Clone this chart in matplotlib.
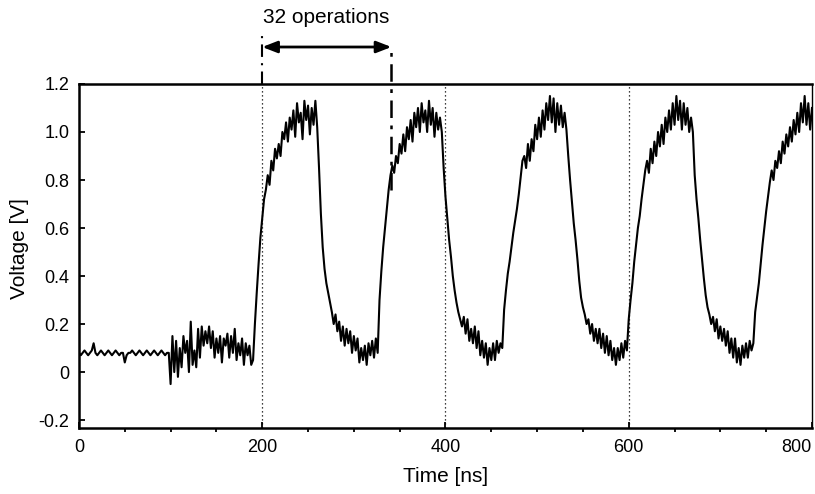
import matplotlib
matplotlib.use("Agg")
import matplotlib.pyplot as plt  # noqa: E402
import numpy as np

plt.rcParams["font.family"] = ["Liberation Sans", "DejaVu Sans"]

STEP_NS = 2
# (start time [ns], voltages [V])
baseline = (0, [0.08, 0.07, 0.08, 0.09, 0.08, 0.07, 0.08, 0.09, 0.12, 0.08,
                0.07, 0.08, 0.09, 0.08, 0.07, 0.08, 0.09, 0.08, 0.07, 0.08,
                0.09, 0.08, 0.07, 0.08, 0.08, 0.04, 0.07, 0.08, 0.08, 0.09,
                0.08, 0.07, 0.08, 0.09, 0.08, 0.07, 0.08, 0.09, 0.08, 0.07,
                0.08, 0.09, 0.08, 0.07, 0.08, 0.09, 0.08, 0.07, 0.08, 0.08])
settling = (100, [-0.05, 0.15, 0.00, 0.13, -0.02, 0.10, 0.02, 0.15, 0.08,
                  0.13, 0.00, 0.21, 0.03, 0.09, 0.02, 0.18, 0.06, 0.19, 0.11,
                  0.17, 0.12, 0.19, 0.10, 0.17, 0.06, 0.14, 0.08, 0.15, 0.04,
                  0.14, 0.11, 0.16, 0.06, 0.15, 0.08, 0.18, 0.05, 0.12, 0.07,
                  0.14, 0.03, 0.12, 0.07, 0.11, 0.03])
rise1 = (190, [0.05, 0.20, 0.33, 0.45, 0.56, 0.64, 0.72, 0.76, 0.82, 0.78,
               0.88, 0.84, 0.93, 0.89, 0.95, 0.90, 1.00, 0.97, 1.04, 0.96,
               1.06, 1.01, 1.09, 0.98, 1.12, 1.04, 1.08, 0.97, 1.13, 1.05,
               1.11, 0.99, 1.10, 1.03, 1.13])
fall1 = (260, [1.02, 0.85, 0.66, 0.52, 0.43, 0.37, 0.33, 0.29, 0.25, 0.20,
               0.24, 0.17, 0.21, 0.13, 0.19, 0.11, 0.18, 0.12, 0.17, 0.08,
               0.15, 0.09, 0.14, 0.04, 0.10, 0.05, 0.11, 0.03, 0.12, 0.07,
               0.13, 0.06, 0.14, 0.08])
rise2 = (328, [0.30, 0.42, 0.52, 0.60, 0.68, 0.76, 0.82, 0.86, 0.83, 0.90,
               0.87, 0.95, 0.91, 0.99, 0.92, 1.02, 0.97, 1.05, 0.96, 1.08,
               1.02, 1.10, 1.00, 1.12, 1.04, 1.09, 1.00, 1.13, 1.03, 1.10,
               0.98, 1.08, 1.01, 1.06])
fall2 = (396, [1.00, 0.85, 0.73, 0.64, 0.55, 0.48, 0.40, 0.34, 0.29, 0.25,
               0.22, 0.19, 0.23, 0.16, 0.22, 0.13, 0.18, 0.12, 0.19, 0.10,
               0.17, 0.07, 0.13, 0.06, 0.12, 0.03, 0.10, 0.05, 0.12, 0.05,
               0.13, 0.08, 0.12, 0.10])
rise3 = (464, [0.26, 0.34, 0.41, 0.46, 0.52, 0.58, 0.63, 0.68, 0.74, 0.81,
               0.88, 0.90, 0.85, 0.95, 0.88, 0.97, 0.92, 1.03, 0.97, 1.06,
               0.98, 1.09, 1.01, 1.12, 1.05, 1.15, 1.04, 1.14, 1.00, 1.12,
               1.03, 1.11, 1.02, 1.08])
fall3 = (532, [1.01, 0.90, 0.80, 0.71, 0.62, 0.55, 0.47, 0.38, 0.31, 0.27,
               0.24, 0.20, 0.22, 0.16, 0.20, 0.13, 0.18, 0.12, 0.18, 0.10,
               0.16, 0.08, 0.15, 0.07, 0.13, 0.05, 0.10, 0.03, 0.10, 0.05,
               0.12, 0.06, 0.13, 0.09])
rise4 = (600, [0.22, 0.30, 0.37, 0.46, 0.53, 0.60, 0.65, 0.72, 0.78, 0.84,
               0.88, 0.83, 0.93, 0.87, 0.96, 0.90, 1.00, 0.94, 1.03, 0.95,
               1.06, 1.00, 1.09, 1.01, 1.12, 1.03, 1.15, 1.05, 1.13, 1.01,
               1.12, 1.03, 1.10, 1.00, 1.06])
fall4 = (670, [1.00, 0.82, 0.72, 0.64, 0.55, 0.47, 0.39, 0.32, 0.27, 0.24,
               0.20, 0.23, 0.17, 0.22, 0.14, 0.19, 0.13, 0.18, 0.11, 0.17,
               0.08, 0.14, 0.06, 0.14, 0.04, 0.10, 0.03, 0.11, 0.06, 0.12,
               0.06, 0.13, 0.09, 0.12])
rise5 = (738, [0.25, 0.31, 0.37, 0.45, 0.53, 0.60, 0.67, 0.73, 0.79, 0.84,
               0.80, 0.88, 0.85, 0.92, 0.87, 0.96, 0.91, 0.99, 0.94, 1.02,
               0.96, 1.05, 0.99, 1.08, 1.00, 1.12, 1.04, 1.15, 1.03, 1.12,
               1.01, 1.10])
segments = [baseline, settling, rise1, fall1, rise2, fall2, rise3, fall3,
            rise4, fall4, rise5]

grid_ns = [200, 400, 600]
y_ticks = [-0.2, 0, 0.2, 0.4, 0.6, 0.8, 1.0, 1.2]
y_labels = ["-0.2", "0", "0.2", "0.4", "0.6", "0.8", "1.0", "1.2"]
x_ticks = [0, 200, 400, 600, 800]
span_ns = (200, 341)
span_label = "32 operations"

t = np.concatenate([s + STEP_NS * np.arange(len(v)) for s, v in segments])
v = np.concatenate([v for _, v in segments])

fig = plt.figure(figsize=(8.15, 4.94), dpi=100)
ax = fig.add_axes([0.0969, 0.1336, 0.8994, 0.6964])

for g in grid_ns:
    ax.axvline(g, color="black", lw=0.9, ls=(0, (1, 2.2)), zorder=1)
ax.plot(t, v, color="black", lw=1.5, zorder=2)

ax.set_xlim(0, 800)
ax.set_ylim(-0.233, 1.2)
ax.set_xticks(x_ticks)
ax.set_xticks(np.arange(0, 801, 50), minor=True)
ax.set_yticks(y_ticks)
ax.set_yticklabels(y_labels)
ax.tick_params(axis="both", direction="in", labelsize=13, width=1.3)
ax.tick_params(axis="y", length=4, pad=7)
ax.tick_params(axis="x", which="major", length=4, pad=8)
ax.tick_params(axis="x", which="minor", length=3, width=1.3)
ax.get_xticklabels()[-1].set_ha("right")
for side in ("left", "top", "bottom"):
    ax.spines[side].set_linewidth(1.8)
ax.spines["right"].set_linewidth(1.0)

ax.set_xlabel("Time [ns]", fontsize=15)
ax.set_ylabel("Voltage [V]", fontsize=15)
ax.xaxis.set_label_coords(0.5, -0.113)
ax.yaxis.set_label_coords(-0.068, 0.523)

# ---- "32 operations" span marker above the frame -------------------------
ax.plot([span_ns[0]] * 2, [1.2, 1.40], color="black", lw=1.5,
        ls=(0, (6, 3, 1, 3)), clip_on=False)
ax.plot([span_ns[1]] * 2, [0.76, 1.36], color="black", lw=1.8,
        ls=(0, (7, 3, 1.5, 3)), clip_on=False, zorder=3)
ax.annotate("", xy=(span_ns[0], 1.354), xytext=(span_ns[1], 1.354),
            arrowprops=dict(arrowstyle="<|-|>,head_length=0.9,head_width=0.35",
                            color="black", lw=2, shrinkA=0, shrinkB=0),
            annotation_clip=False)
ax.text(sum(span_ns) / 2 - 1, 1.475, span_label, ha="center", va="center",
        fontsize=15)

fig.savefig("out.png", dpi=100)
